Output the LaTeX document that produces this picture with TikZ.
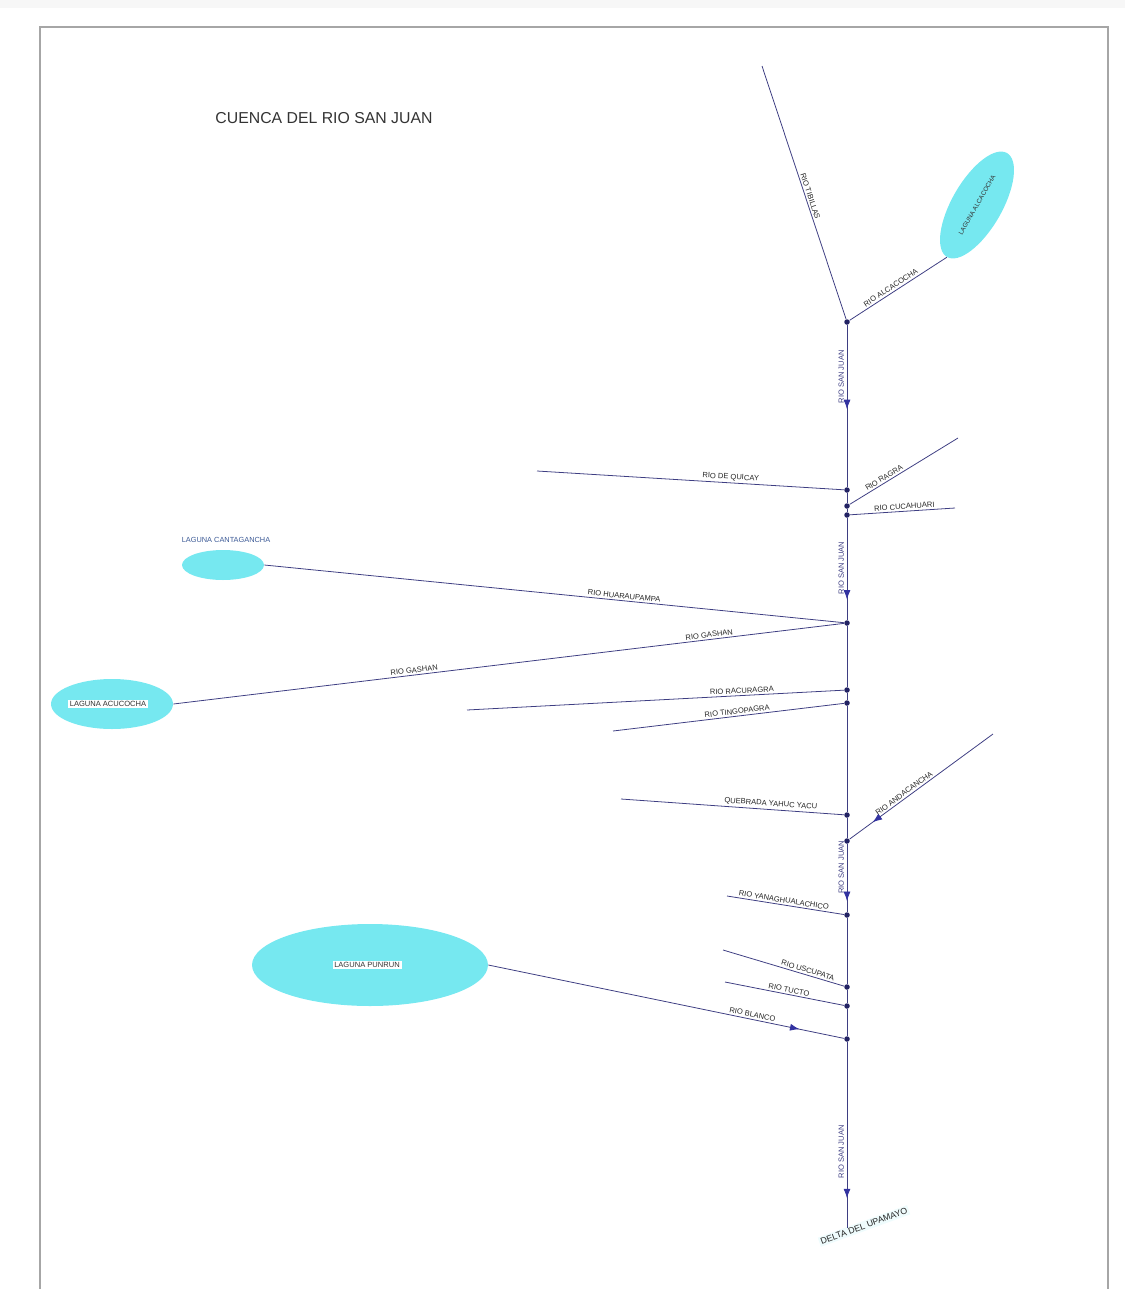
\documentclass[tikz,border=0pt]{standalone}
\usetikzlibrary{arrows.meta,shapes.geometric,decorations.markings}
\usepackage{fontspec}
\setmainfont{Liberation Sans}
\definecolor{riocol}{RGB}{62,62,130}
\definecolor{lagcol}{RGB}{118,232,240}
\definecolor{nudocol}{RGB}{35,35,100}
\definecolor{flechacol}{RGB}{50,50,160}
\definecolor{cantxt}{RGB}{60,90,150}

\begin{document}
\begin{tikzpicture}[
  x=0.02cm, y=-0.02cm,
  rio/.style={draw=riocol, line width=0.45pt},
  nudo/.style={circle, fill=nudocol, inner sep=0pt, minimum size=1.1mm},
  laguna/.style={ellipse, fill=lagcol, inner sep=0pt},
  lbl/.style={font=\fontsize{4.3}{5}\selectfont, text=black!85, sloped, above,
              inner sep=1pt},
  sj/.style={font=\fontsize{4.3}{5}\selectfont, text=riocol, rotate=90,
             anchor=south, inner sep=1.5pt},
  lagtxt/.style={font=\fontsize{4.3}{5}\selectfont, fill=white, text=black!80,
                 inner sep=1pt},
  flecha/.style={postaction={decorate, decoration={markings,
      mark=at position #1 with {\arrow[flechacol]{Latex[length=1.9mm,width=1.4mm]}}}}},
]
  \useasboundingbox (0,0) rectangle (1125,1289);
  \fill[gray!6] (0,0) rectangle (1125,8);
  \draw[gray!70, line width=0.9pt] (40,1289) -- (40,27) -- (1108,27) -- (1108,1289);

  \node[font=\fontsize{9}{11}\selectfont, text=black!80] (titulo) at (324,118)
    {CUENCA DEL RIO SAN JUAN};

  % lagunas
  \node[laguna, minimum width=2.4cm, minimum height=1cm, rotate=60] (lAlc) at (977,205) {};
  \node[font=\fontsize{3.6}{4}\selectfont, text=black!80, rotate=60, inner sep=0pt]
    (tAlc) at (977,205) {LAGUNA ALCACOCHA};
  \node[laguna, minimum width=1.64cm, minimum height=0.6cm] (lCan) at (223,565) {};
  \node[font=\fontsize{4.2}{5}\selectfont, text=cantxt] (tCan) at (226,540)
    {LAGUNA CANTAGANCHA};
  \node[laguna, minimum width=2.44cm, minimum height=1cm] (lAcu) at (112,704) {};
  \node[lagtxt] (tAcu) at (108,704) {LAGUNA ACUCOCHA};
  \node[laguna, minimum width=4.72cm, minimum height=1.64cm] (lPun) at (370,965) {};
  \node[lagtxt] (tPun) at (367,965) {LAGUNA PUNRUN};

  % confluencias
  \node[nudo] (j1) at (847,322) {};
  \node[nudo] (j2) at (847,490) {};
  \node[nudo] (j3) at (847,506) {};
  \node[nudo] (j4) at (847,515) {};
  \node[nudo] (j5) at (847,623) {};
  \node[nudo] (j6) at (847,690) {};
  \node[nudo] (j7) at (847,703) {};
  \node[nudo] (j8) at (847,815) {};
  \node[nudo] (j9) at (847,841) {};
  \node[nudo] (j10) at (847,915) {};
  \node[nudo] (j11) at (847,987) {};
  \node[nudo] (j12) at (847,1006) {};
  \node[nudo] (j13) at (847,1039) {};
  \coordinate (boca) at (847,1228);
  \node[font=\fontsize{5}{6}\selectfont, fill=lagcol!12, text=black!85, rotate=20,
        inner sep=1pt] (delta) at (864,1226) {DELTA DEL UPAMAYO};

  % nacientes
  \coordinate (nTib) at (762,66);
  \coordinate (nQui) at (537,471);
  \coordinate (nRag) at (958,438);
  \coordinate (nCuc) at (955,508);
  \coordinate (nRac) at (467,710);
  \coordinate (nTin) at (613,731);
  \coordinate (nYah) at (621,799);
  \coordinate (nAnd) at (993,734);
  \coordinate (nYan) at (727,896);
  \coordinate (nUsc) at (723,950);
  \coordinate (nTuc) at (725,982);

  % rio principal
  \draw[rio, flecha=0.52] (j1) -- node[sj, pos=0.32] {RIO SAN JUAN} (j2);
  \draw[rio] (j2) -- (j3) -- (j4);
  \draw[rio, flecha=0.8] (j4) -- node[sj, pos=0.49] {RIO SAN JUAN} (j5);
  \draw[rio] (j5) -- (j6) -- (j7) -- (j8) -- (j9);
  \draw[rio, flecha=0.84] (j9) -- node[sj, pos=0.34] {RIO SAN JUAN} (j10);
  \draw[rio] (j10) -- (j11) -- (j12) -- (j13);
  \draw[rio, flecha=0.84] (j13) -- node[sj, pos=0.59] {RIO SAN JUAN} (boca);

  % afluentes
  \draw[rio] (nTib) -- node[lbl, pos=0.52] {RIO TIBILLAS} (j1);
  \draw[rio] (j1) -- node[lbl, pos=0.45] {RIO ALCACOCHA} (lAlc.west);
  \draw[rio] (nQui) -- node[lbl, pos=0.63] {RIO DE QUICAY} (j2);
  \draw[rio] (nRag) -- node[lbl, pos=0.66] {RIO RAGRA} (j3);
  \draw[rio] (nCuc) -- node[lbl, pos=0.48] {RIO CUCAHUARI} (j4);
  \draw[rio] (lCan.east) -- node[lbl, pos=0.62] {RIO HUARAUPAMPA} (j5);
  \draw[rio] (lAcu.east) -- node[lbl, pos=0.36] {RIO GASHAN}
    node[lbl, pos=0.8] {RIO GASHAN} (j5);
  \draw[rio] (nRac) -- node[lbl, pos=0.73] {RIO RACURAGRA} (j6);
  \draw[rio] (nTin) -- node[lbl, pos=0.54] {RIO TINGOPAGRA} (j7);
  \draw[rio] (nYah) -- node[lbl, pos=0.67] {QUEBRADA YAHUC YACU} (j8);
  \draw[rio, flecha=0.84] (nAnd) -- node[lbl, pos=0.6] {RIO ANDACANCHA} (j9);
  \draw[rio] (nYan) -- node[lbl, pos=0.48] {RIO YANAGHUALACHICO} (j10);
  \draw[rio] (nUsc) -- node[lbl, pos=0.69] {RIO USCUPATA} (j11);
  \draw[rio] (nTuc) -- node[lbl, pos=0.53] {RIO TUCTO} (j12);
  \draw[rio, flecha=0.875] (lPun.east) -- node[lbl, pos=0.74] {RIO BLANCO} (j13);
\end{tikzpicture}
\end{document}
